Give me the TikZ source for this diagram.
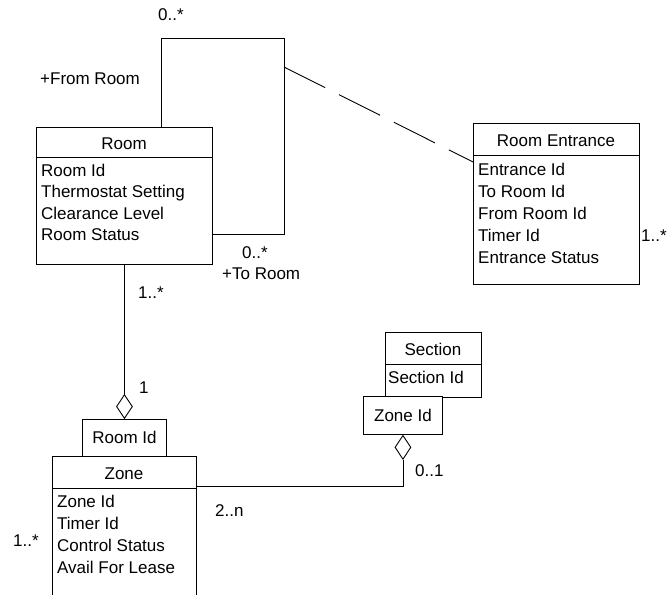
\documentclass[tikz,border=0pt]{standalone}
\usepackage{fontspec}
\setmainfont{Liberation Sans}
\usetikzlibrary{shapes.geometric, positioning}

\begin{document}
\begin{tikzpicture}[
  x=1pt, y=-1pt,
  font=\fontsize{17}{20}\selectfont,
  classbox/.style={draw, line width=0.9pt, fill=white, anchor=north west, inner sep=0pt},
  title/.style={inner sep=0pt, text height=12pt, text depth=0pt},
  attr/.style={title, anchor=west},
  mult/.style={title, anchor=west},
  link/.style={line width=0.9pt},
  dashlink/.style={link, dash pattern=on 46pt off 15.5pt},
  agg/.style={diamond, draw, line width=0.9pt, fill=white, inner sep=0pt, minimum width=16pt, minimum height=24pt}
]
\useasboundingbox (0,0) rectangle (668,594);
% classes
\node[classbox, minimum width=176pt, minimum height=137pt] (room) at (36,127) {};
\draw[link] (room.west |- 0,157) -- (room.east |- 0,157);
\node[title] (roomTitle) at (124,143) {Room};
\foreach \t [count=\i] in {Room Id, Thermostat Setting, Clearance Level, Room Status}
  \node[attr] (roomA\i) at (41, 148.5+21.5*\i) {\t};

\node[classbox, minimum width=166pt, minimum height=161pt] (entrance) at (473,123) {};
\draw[link] (entrance.west |- 0,155) -- (entrance.east |- 0,155);
\node[title] (entranceTitle) at (556,140) {Room Entrance};
\foreach \t [count=\i] in {Entrance Id, To Room Id, From Room Id, Timer Id, Entrance Status}
  \node[attr] (entranceA\i) at (478, 147+22*\i) {\t};

\node[classbox, minimum width=144pt, minimum height=142pt] (zone) at (52,456) {};
\draw[link] (zone.west |- 0,488) -- (zone.east |- 0,488);
\node[title] (zoneTitle) at (124,473) {Zone};
\foreach \t [count=\i] in {Zone Id, Timer Id, Control Status, Avail For Lease}
  \node[attr] (zoneA\i) at (57, 479+22*\i) {\t};

\node[classbox, minimum width=96pt, minimum height=65pt] (section) at (385,332) {};
\draw[link] (section.west |- 0,364) -- (section.east |- 0,364);
\node[title] (sectionTitle) at (433,349) {Section};
\node[attr] (sectionA1) at (388,377) {Section Id};

% qualifiers and aggregation
\node[classbox, title, minimum width=84pt, minimum height=37pt] (roomq) at (82,419) {Room Id};
\node[classbox, title, minimum width=79pt, minimum height=38pt] (zoneq) at (363,396) {Zone Id};
\node[agg, above=0pt of roomq] (aggRoom) {};
\node[agg, below=0pt of zoneq] (aggZone) {};

% associations
\coordinate (loopTop) at (161,38);
\coordinate (loopEnd) at (284,234);
\coordinate (assoc) at (284,67);
\draw[link] (loopTop |- room.north) -- (loopTop) -| (loopEnd) -- (loopEnd -| room.east);
\draw[dashlink] (assoc) -- (entrance.west |- 0,162);
\draw[link] (room.south) -- (aggRoom.north);
\draw[link] (aggZone.south) |- (zone.east |- 0,486);

% multiplicities and roles
\node[mult] (multTop) at (158,15) {0..*};
\node[mult] (roleFrom) at (40,78) {+From Room};
\node[mult] (multLoop) at (242,252) {0..*};
\node[mult] (roleTo) at (222,273) {+To Room};
\node[mult] (multRoom) at (138,292) {1..*};
\node[mult] (multOne) at (139,387) {1};
\node[mult] (multSection) at (415,470) {0..1};
\node[mult] (multZone) at (215,510) {2..n};
\node[mult] (multLeft) at (13,540) {1..*};
\node[mult] (multRight) at (641,235) {1..*};
\end{tikzpicture}
\end{document}
